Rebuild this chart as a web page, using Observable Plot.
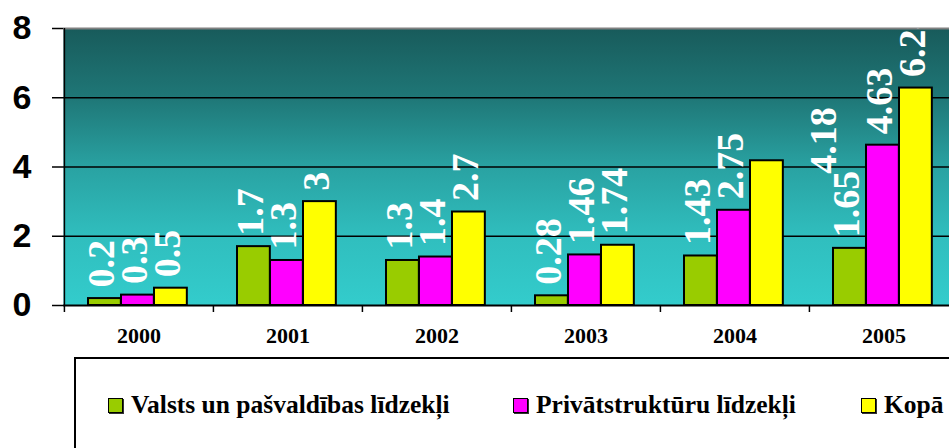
<!DOCTYPE html>
<html>
<head>
<meta charset="utf-8">
<script src="https://cdn.jsdelivr.net/npm/d3@7"></script>
<script src="https://cdn.jsdelivr.net/npm/@observablehq/plot@0.6"></script>
<style>
  html, body { margin: 0; padding: 0; background: white; overflow: hidden; }
  #wrap { position: relative; width: 949px; height: 448px; overflow: hidden; }
  #wrap svg { max-width: none !important; position: absolute; left: 0; top: 0; }
  .lg-box { position: absolute; left: 74px; top: 357px; width: 1000px; height: 200px; border: 2px solid #000; box-sizing: border-box; }
  .lg-sw { position: absolute; width: 15px; height: 15px; border: 1.5px solid #000; box-sizing: border-box; box-shadow: 1px 1px 0 #333; }
  .lg-tx { position: absolute; font-family: "Liberation Serif", "Times New Roman", serif; font-weight: bold; font-size: 25.5px; line-height: 24px; white-space: nowrap; color: #000; }
</style>
</head>
<body>
<div id="wrap"></div>
<script>
// ---- data ----
const years = ["2000", "2001", "2002", "2003", "2004", "2005"];
const series = ["Valsts un pašvaldības līdzekļi", "Privātstruktūru līdzekļi", "Kopā"];
const valsts = [0.2, 1.7, 1.3, 0.28, 1.43, 1.65];
const privat = [0.3, 1.3, 1.4, 1.46, 2.75, 4.63];
const kopa = [0.5, 3, 2.7, 1.74, 4.18, 6.28];
const yTicks = [0, 2, 4, 6, 8];
const colors = ["#99cc00", "#ff00ff", "#ffff00"];

const seriesValues = [valsts, privat, kopa];
const rows = [];
series.forEach((s, i) => years.forEach((y, j) => rows.push({year: y, series: s, si: i, value: seriesValues[i][j]})));

// ---- layout ----
const W = 960, marginLeft = 63, marginRight = 2;
const bw = (W - marginLeft - marginRight) / years.length;
const barW = 33, padL = 24;
const insL = [0, 1, 2].map(i => padL + i * barW);
const insR = [0, 1, 2].map(i => bw - (padL + (i + 1) * barW));
const labelDx = [0, 1, 2].map(i => padL + (i + 0.5) * barW - bw / 2 - 3);

const labelStyle = {
  text: d => String(d.value),
  rotate: -90,
  textAnchor: "start",
  lineAnchor: "middle",
  fill: "white",
  fontFamily: "Liberation Serif",
  fontWeight: "bold",
  fontSize: 38,
  clip: "frame"
};

const isNudged = d => d.si === 2 && d.year === "2004";

const marks = [
  Plot.frame({fill: "url(#bgGrad)", stroke: null}),
  Plot.ruleY([2, 4, 6], {stroke: "black", strokeWidth: 1.5}),
  Plot.ruleY([8], {stroke: "#808080", strokeWidth: 2}),
];
[0, 1, 2].forEach(i => {
  marks.push(Plot.barY(rows.filter(d => d.si === i), {
    x: "year", y: "value", fill: colors[i], stroke: "black", strokeWidth: 2,
    insetLeft: insL[i], insetRight: insR[i]
  }));
});
[0, 1, 2].forEach(i => {
  marks.push(Plot.text(rows.filter(d => d.si === i && !isNudged(d)), {
    x: "year", y: "value", dx: labelDx[i], dy: -11, ...labelStyle
  }));
});
marks.push(Plot.text(rows.filter(isNudged), {
  x: "year", y: "value", dx: labelDx[2] + 60, dy: 13, ...labelStyle
}));
marks.push(
  Plot.ruleY([0], {stroke: "black", strokeWidth: 2}),
  Plot.ruleX([years[0]], {dx: -bw / 2, stroke: "black", strokeWidth: 1.5}),
  Plot.axisY(yTicks, {tickSize: 11, tickPadding: 21, fontSize: 34, fontFamily: "Liberation Sans", fontWeight: "bold", strokeWidth: 1.5, stroke: "black", fill: "black", label: null}),
  Plot.axisX({tickSize: 7, text: null, dx: -bw / 2, strokeWidth: 1.5, stroke: "black", label: null}),
  Plot.axisX({tickSize: 0, tickPadding: 22, fontSize: 22, fontFamily: "Liberation Serif", fontWeight: "bold", fill: "black", label: null})
);

const svg = Plot.plot({
  width: W,
  height: 350,
  marginLeft, marginRight,
  marginTop: 28,
  marginBottom: 45,
  x: {domain: years, padding: 0, axis: null},
  y: {domain: [0, 8], axis: null},
  style: {background: "transparent", color: "black"},
  marks
});

d3.select(svg).insert("defs", ":first-child").html(
  `<linearGradient id="bgGrad" x1="0" y1="0" x2="0" y2="1">
     <stop offset="0" stop-color="#185b5b"/>
     <stop offset="0.25" stop-color="#1f7777"/>
     <stop offset="0.5" stop-color="#29a2a2"/>
     <stop offset="0.75" stop-color="#30bebe"/>
     <stop offset="1" stop-color="#33cccc"/>
   </linearGradient>`
);

const wrap = document.getElementById("wrap");
wrap.appendChild(svg);

// ---- legend (HTML below the SVG) ----
const box = document.createElement("div");
box.className = "lg-box";
wrap.appendChild(box);
const legendX = [108, 513, 861];
series.forEach((s, i) => {
  const sw = document.createElement("div");
  sw.className = "lg-sw";
  sw.style.left = legendX[i] + "px";
  sw.style.top = "398px";
  sw.style.background = colors[i];
  wrap.appendChild(sw);
  const tx = document.createElement("div");
  tx.className = "lg-tx";
  tx.style.left = (legendX[i] + 23) + "px";
  tx.style.top = "393px";
  tx.textContent = s;
  wrap.appendChild(tx);
});
</script>
</body>
</html>
